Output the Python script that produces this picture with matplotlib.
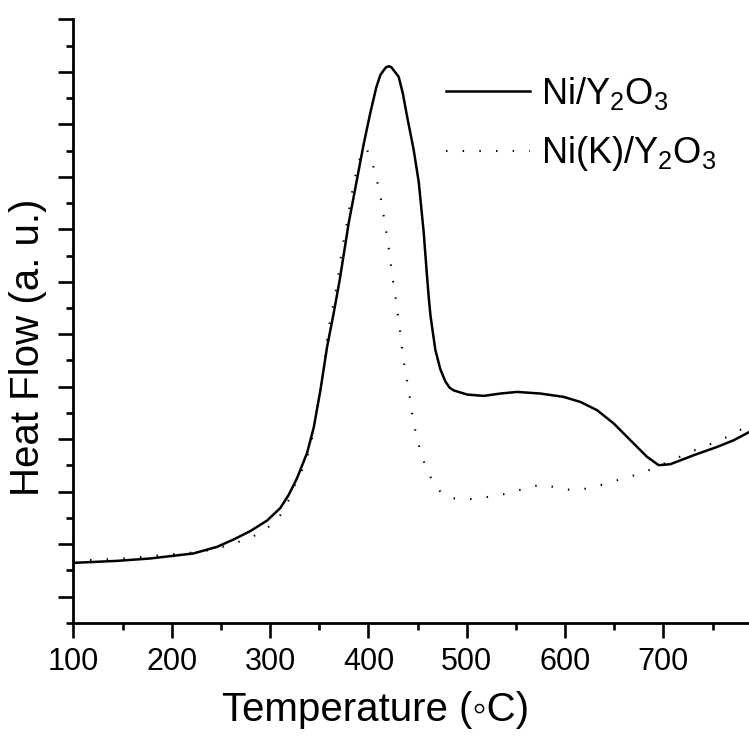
import matplotlib
matplotlib.use("Agg")
import matplotlib.pyplot as plt
from matplotlib.ticker import MultipleLocator, NullFormatter

plt.rcParams["font.family"] = ["Liberation Sans", "DejaVu Sans"]
plt.rcParams["mathtext.fontset"] = "custom"
plt.rcParams["mathtext.rm"] = "Liberation Sans"
plt.rcParams["mathtext.it"] = "Liberation Sans:italic"

# Ni/Y2O3 (solid)
temp_ni = [100.0, 144.4, 178.3, 222.0, 246.1, 263.0, 280.0, 297.0, 310.5, 319.0,
           327.5, 337.7, 344.4, 351.2, 358.0, 364.7, 370.8, 380.0, 388.5, 395.2,
           402.0, 408.0, 412.2, 415.6, 418.2, 420.7, 423.2, 425.7, 430.8, 435.0,
           439.4, 446.1, 451.2, 456.2, 459.4, 461.3, 463.1, 468.1, 473.2, 478.3,
           482.7, 486.7, 500.4, 517.3, 534.2, 551.2, 574.9, 598.6, 615.6, 632.6,
           649.5, 666.4, 683.4, 695.2, 707.1, 710.5, 730.8, 754.6, 771.5, 787.5]
heat_ni = [0.644, 0.682, 0.728, 0.823, 0.949, 1.090, 1.250, 1.450, 1.690, 1.940,
           2.260, 2.740, 3.220, 3.930, 4.758, 5.400, 6.030, 7.120, 7.960, 8.620,
           9.220, 9.700, 9.940, 10.03, 10.09, 10.105, 10.09, 10.03, 9.905, 9.590,
           9.145, 8.510, 7.900, 6.950, 6.160, 5.720, 5.360, 4.700, 4.330, 4.100,
           3.980, 3.930, 3.851, 3.825, 3.870, 3.901, 3.870, 3.806, 3.710, 3.552,
           3.299, 2.981, 2.663, 2.505, 2.524, 2.549, 2.695, 2.853, 2.981, 3.139]

# Ni(K)/Y2O3 (dotted)
temp_nik = [100.0, 147.8, 229.2, 246.1, 259.7, 273.2, 285.1, 296.3, 306.4, 313.9,
            320.7, 325.8, 332.6, 337.7, 342.0, 345.1, 347.8, 351.2, 352.9, 355.3,
            357.3, 359.6, 362.4, 365.7, 368.8, 371.5, 374.3, 377.3, 380.0, 382.7,
            385.8, 389.1, 393.6, 398.0, 402.7, 407.1, 410.5, 413.9, 416.3, 419.0,
            421.4, 423.4, 425.7, 428.2, 430.2, 432.5, 434.3, 436.6, 439.4, 442.0,
            444.5, 447.8, 452.2, 457.3, 463.1, 469.9, 478.3, 491.8, 508.8, 523.4,
            537.6, 551.2, 563.0, 578.6, 591.9, 607.5, 622.4, 635.9, 649.7, 663.1,
            676.6, 683.4, 695.2, 706.4, 718.0, 730.2, 742.7, 755.6, 768.1, 780.6,
            787.0]
heat_nik = [0.686, 0.724, 0.853, 0.918, 0.994, 1.076, 1.171, 1.299, 1.444, 1.648,
            1.901, 2.156, 2.410, 2.663, 2.949, 3.253, 3.585, 3.870, 4.156, 4.472,
            4.790, 5.109, 5.394, 5.710, 6.029, 6.410, 6.728, 7.013, 7.330, 7.634,
            7.933, 8.219, 8.472, 8.543, 8.333, 8.072, 7.775, 7.470, 7.158, 6.853,
            6.556, 6.238, 5.933, 5.634, 5.330, 5.025, 4.714, 4.410, 4.110, 3.806,
            3.490, 3.158, 2.823, 2.524, 2.282, 2.061, 1.914, 1.851, 1.863, 1.907,
            1.952, 2.015, 2.091, 2.137, 2.072, 2.029, 2.061, 2.124, 2.200, 2.270,
            2.347, 2.396, 2.486, 2.587, 2.676, 2.777, 2.867, 2.968, 3.070, 3.204,
            3.270]

fig = plt.figure(figsize=(7.49, 7.37), dpi=100)
ax = fig.add_axes([0.0979, 0.1548, 0.9021, 0.819])

ax.plot(temp_ni, heat_ni, color="black", lw=1.8, label="Ni/Y$_2$O$_3$")
ax.plot(temp_nik, heat_nik, color="black", lw=1.5, linestyle=(0, (0.7, 7.3)),
        label="Ni(K)/Y$_2$O$_3$")

ax.set_xlim(100, 787)
ax.set_ylim(-0.5, 11)
ax.xaxis.set_major_locator(MultipleLocator(100))
ax.xaxis.set_minor_locator(MultipleLocator(50))
ax.yaxis.set_major_locator(MultipleLocator(1))
ax.yaxis.set_minor_locator(MultipleLocator(0.5))
ax.yaxis.set_major_formatter(NullFormatter())

for s in ("top", "right"):
    ax.spines[s].set_visible(False)
for s in ("left", "bottom"):
    ax.spines[s].set_linewidth(2.0)

ax.tick_params(which="major", direction="out", length=10.5, width=1.9,
               labelsize=22, pad=7)
ax.tick_params(which="minor", direction="out", length=5, width=1.9)

ax.set_xlabel("Temperature (\u25e6C)", fontsize=29)
ax.set_ylabel("Heat Flow (a. u.)", fontsize=29)
ax.xaxis.set_label_coords(0.448, -0.113)
ax.yaxis.set_label_coords(-0.039, 0.457)

ax.legend(loc="upper left", bbox_to_anchor=(0.552, 0.908), frameon=False,
          fontsize=26, handlelength=2.33, handletextpad=0.28, labelspacing=0.62,
          borderaxespad=0, borderpad=0)

fig.savefig("out.png", dpi=100)
